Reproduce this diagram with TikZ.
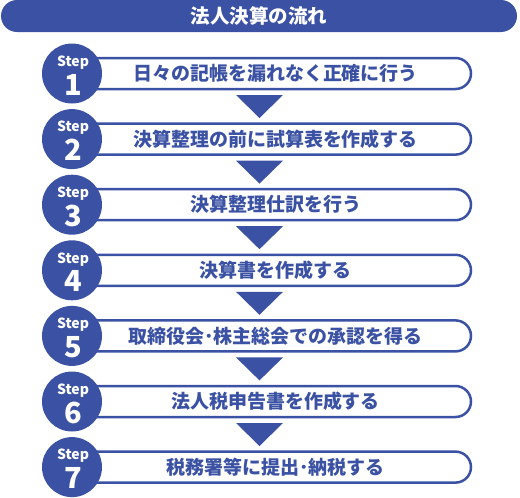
\documentclass[tikz,border=0pt]{standalone}
\usepackage{fontspec}
\newfontfamily\cjk{Noto Sans CJK JP}
\definecolor{mainblue}{RGB}{59,82,164}
\begin{document}
\begin{tikzpicture}[x=1pt,y=-1pt,
  titlebar/.style={fill=mainblue, rounded corners=16pt, minimum width=516pt, minimum height=32pt, inner sep=0pt, text=white, font=\cjk\bfseries\fontsize{19.5}{22}\selectfont},
  pill/.style={draw=mainblue, line width=2.5pt, fill=white, rounded corners=15.5pt, minimum width=391pt, minimum height=31pt, inner sep=0pt, text=mainblue, font=\cjk\bfseries\fontsize{19}{22}\selectfont},
  stepcircle/.style={circle, fill=mainblue, minimum size=60pt, inner sep=0pt},
  steplabel/.style={text=white, inner sep=0pt, font=\cjk\bfseries\fontsize{14}{15}\selectfont},
  stepnum/.style={text=white, inner sep=0pt, font=\cjk\bfseries\fontsize{29}{30}\selectfont},
  arrowtri/.style={fill=mainblue}
]
\useasboundingbox (0,0) rectangle (520,498);
\node[titlebar] (title) at (259,16) {法人決算の流れ};
\foreach \i/\t in {1/日々の記帳を漏れなく正確に行う,2/決算整理の前に試算表を作成する,3/決算整理仕訳を行う,4/決算書を作成する,5/取締役会･株主総会での承認を得る,6/法人税申告書を作成する,7/税務署等に提出･納税する}{
  \pgfmathsetmacro\yy{73.5+65.6*(\i-1)}
  \node[pill] (p\i) at (275.5,\yy) {\t};
  \node[stepcircle] (c\i) at (72,\yy) {};
  \node[steplabel] (s\i) at (73,\yy-11) {Step};
  \node[stepnum] (n\i) at (73,\yy+11) {\i};
}
\foreach \i in {1,...,6}{
  \pgfmathsetmacro\yy{73.5+65.6*(\i-1)}
  \fill[arrowtri] (236,\yy+21.5) -- (283,\yy+21.5) -- (259.5,\yy+44.5) -- cycle;
}
\end{tikzpicture}
\end{document}
